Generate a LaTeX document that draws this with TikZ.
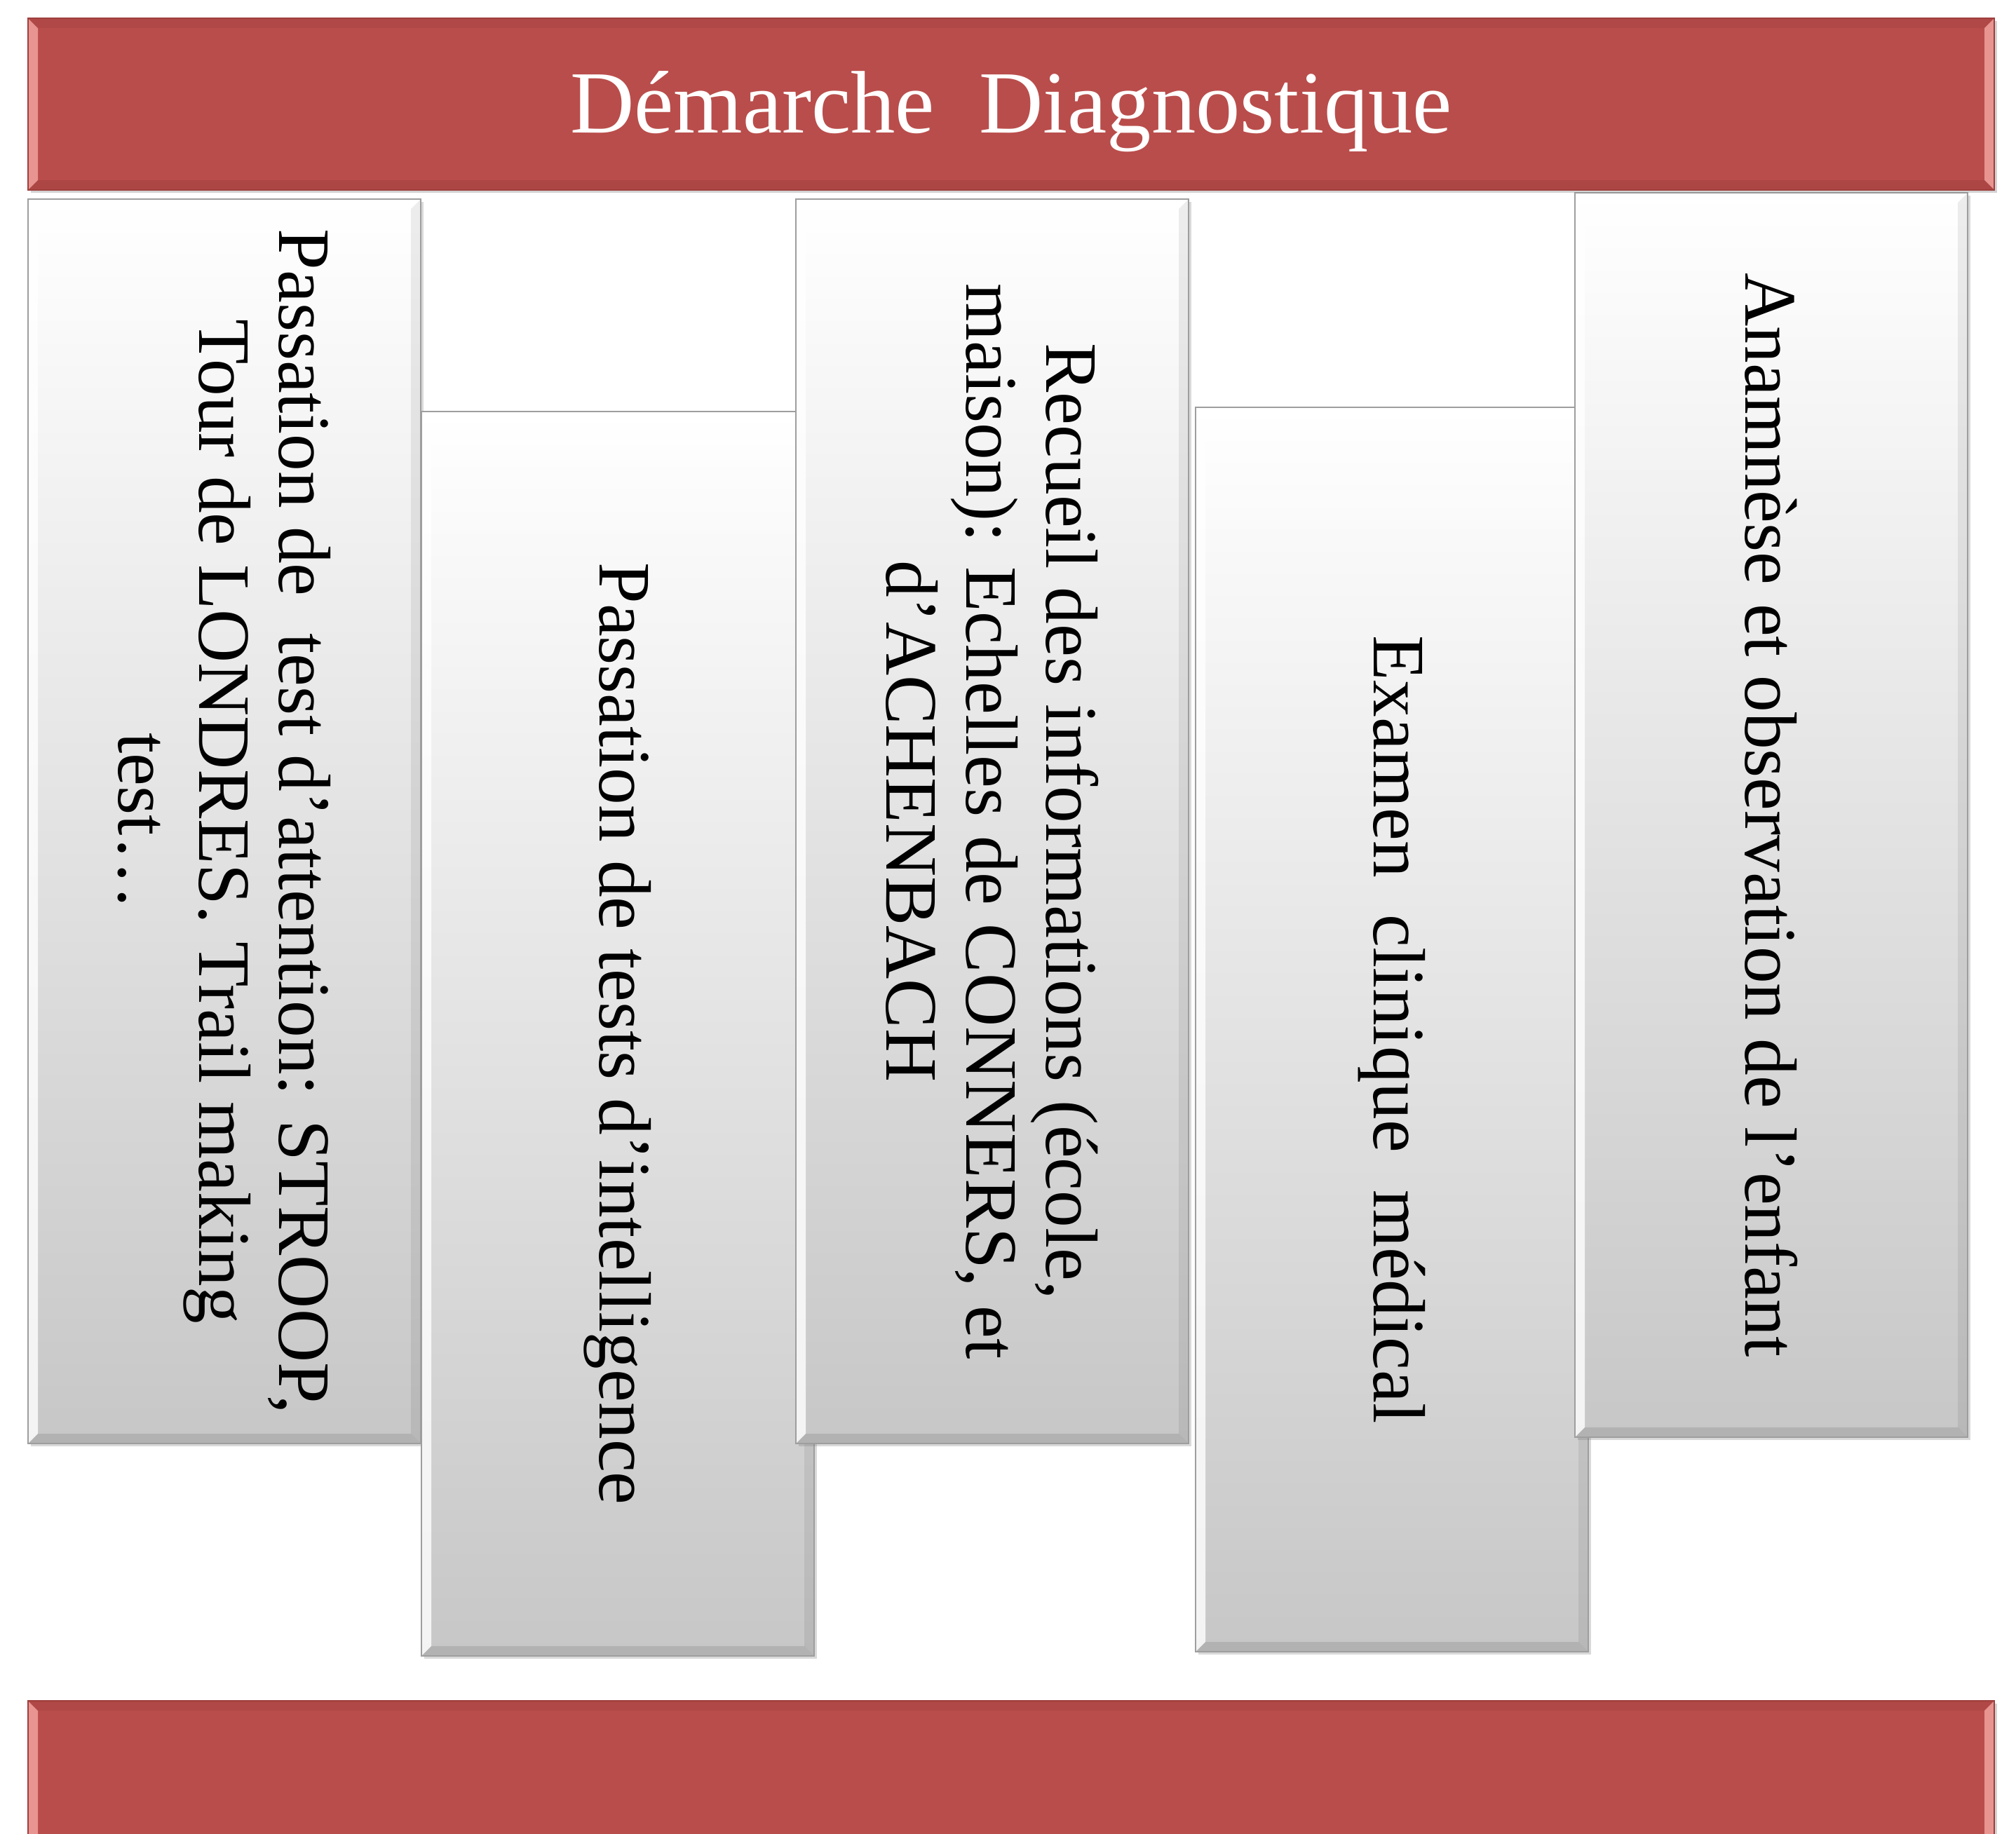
\documentclass[tikz,border=0pt]{standalone}
\usepackage{fontspec}
\setmainfont{Liberation Serif}
\usetikzlibrary{shadows}
\definecolor{bannerred}{HTML}{B94D4B}
\definecolor{bannerdark}{HTML}{9E3F3D}
\definecolor{bannerpink}{HTML}{F4A6A3}
\newcommand{\bw}{0.14cm}
\tikzset{
  bevel/.style n args={4}{path picture={
    \fill[#1] (path picture bounding box.south west) -- (path picture bounding box.north west)
      -- ([shift={(\bw,-\bw)}]path picture bounding box.north west) -- ([shift={(\bw,\bw)}]path picture bounding box.south west) -- cycle;
    \fill[#2] (path picture bounding box.north west) -- (path picture bounding box.north east)
      -- ([shift={(-\bw,-\bw)}]path picture bounding box.north east) -- ([shift={(\bw,-\bw)}]path picture bounding box.north west) -- cycle;
    \fill[#3] (path picture bounding box.north east) -- (path picture bounding box.south east)
      -- ([shift={(-\bw,\bw)}]path picture bounding box.south east) -- ([shift={(-\bw,-\bw)}]path picture bounding box.north east) -- cycle;
    \fill[#4] (path picture bounding box.south east) -- (path picture bounding box.south west)
      -- ([shift={(\bw,\bw)}]path picture bounding box.south west) -- ([shift={(-\bw,\bw)}]path picture bounding box.south east) -- cycle;
  }},
  tile/.style={rectangle, anchor=north west, inner sep=0pt, outer sep=0pt,
    minimum width=5.6cm, minimum height=17.75cm, draw=black!38, line width=0.7pt,
    top color=white, middle color=black!5, bottom color=black!22,
    drop shadow={shadow xshift=1.2pt, shadow yshift=-1.2pt, opacity=0.3},
    bevel={white,opacity=0.8}{white,opacity=0.5}{black,opacity=0.07}{black,opacity=0.1}},
  banner/.style={rectangle, anchor=north west, inner sep=0pt, outer sep=0pt,
    minimum width=28.04cm, minimum height=2.45cm, fill=bannerred, draw=bannerdark, line width=0.7pt,
    drop shadow={shadow xshift=1.2pt, shadow yshift=-1.2pt, opacity=0.35},
    bevel={bannerpink,opacity=0.8}{bannerdark,opacity=0.35}{bannerpink,opacity=0.8}{bannerdark,opacity=0.45}},
  tiletext/.style={rotate=-90, align=center, inner sep=0pt, font=\fontsize{30}{32.5}\selectfont},
}
\begin{document}
\begin{tikzpicture}
 \useasboundingbox (0,0) rectangle (28.75,-26.15);
 \clip (0,0) rectangle (28.75,-26.15);
 % colonnes
 \node [tile] (attention) at (0.40,-2.84) {};
 \node [tiletext] (t-attention) at (attention.center) {Passation de\ \ test d’attention: STROOP,\\ Tour de LONDRES. Trail making\\ test\ldots};
 \node [tile] (intelligence) at (6.01,-5.87) {};
 \node [tiletext] (t-intelligence) at (intelligence.center) {Passation de tests d’intelligence};
 \node [tile] (recueil) at (11.35,-2.84) {};
 \node [tiletext] (t-recueil) at (recueil.center) {Recueil des informations (école,\\ maison): Echelles de CONNERS, et\\ d’ACHENBACH};
 \node [tile] (examen) at (17.05,-5.81) {};
 \node [tiletext] (t-examen) at (examen.center) {Examen\ \ clinique\ \ médical};
 \node [tile] (anamnese) at (22.46,-2.75) {};
 \node [tiletext] (t-anamnese) at (anamnese.center) {Anamnèse et observation de l’enfant};
 % bandeaux
 \node [banner] (demarche) at (0.40,-0.26) {};
 \node [anchor=base, text=white, font=\fontsize{36}{40}\selectfont] (titre) at (14.42,-1.89) {Démarche\ \ Diagnostique};
 \node [banner] (bas) at (0.40,-24.26) {};
\end{tikzpicture}
\end{document}
